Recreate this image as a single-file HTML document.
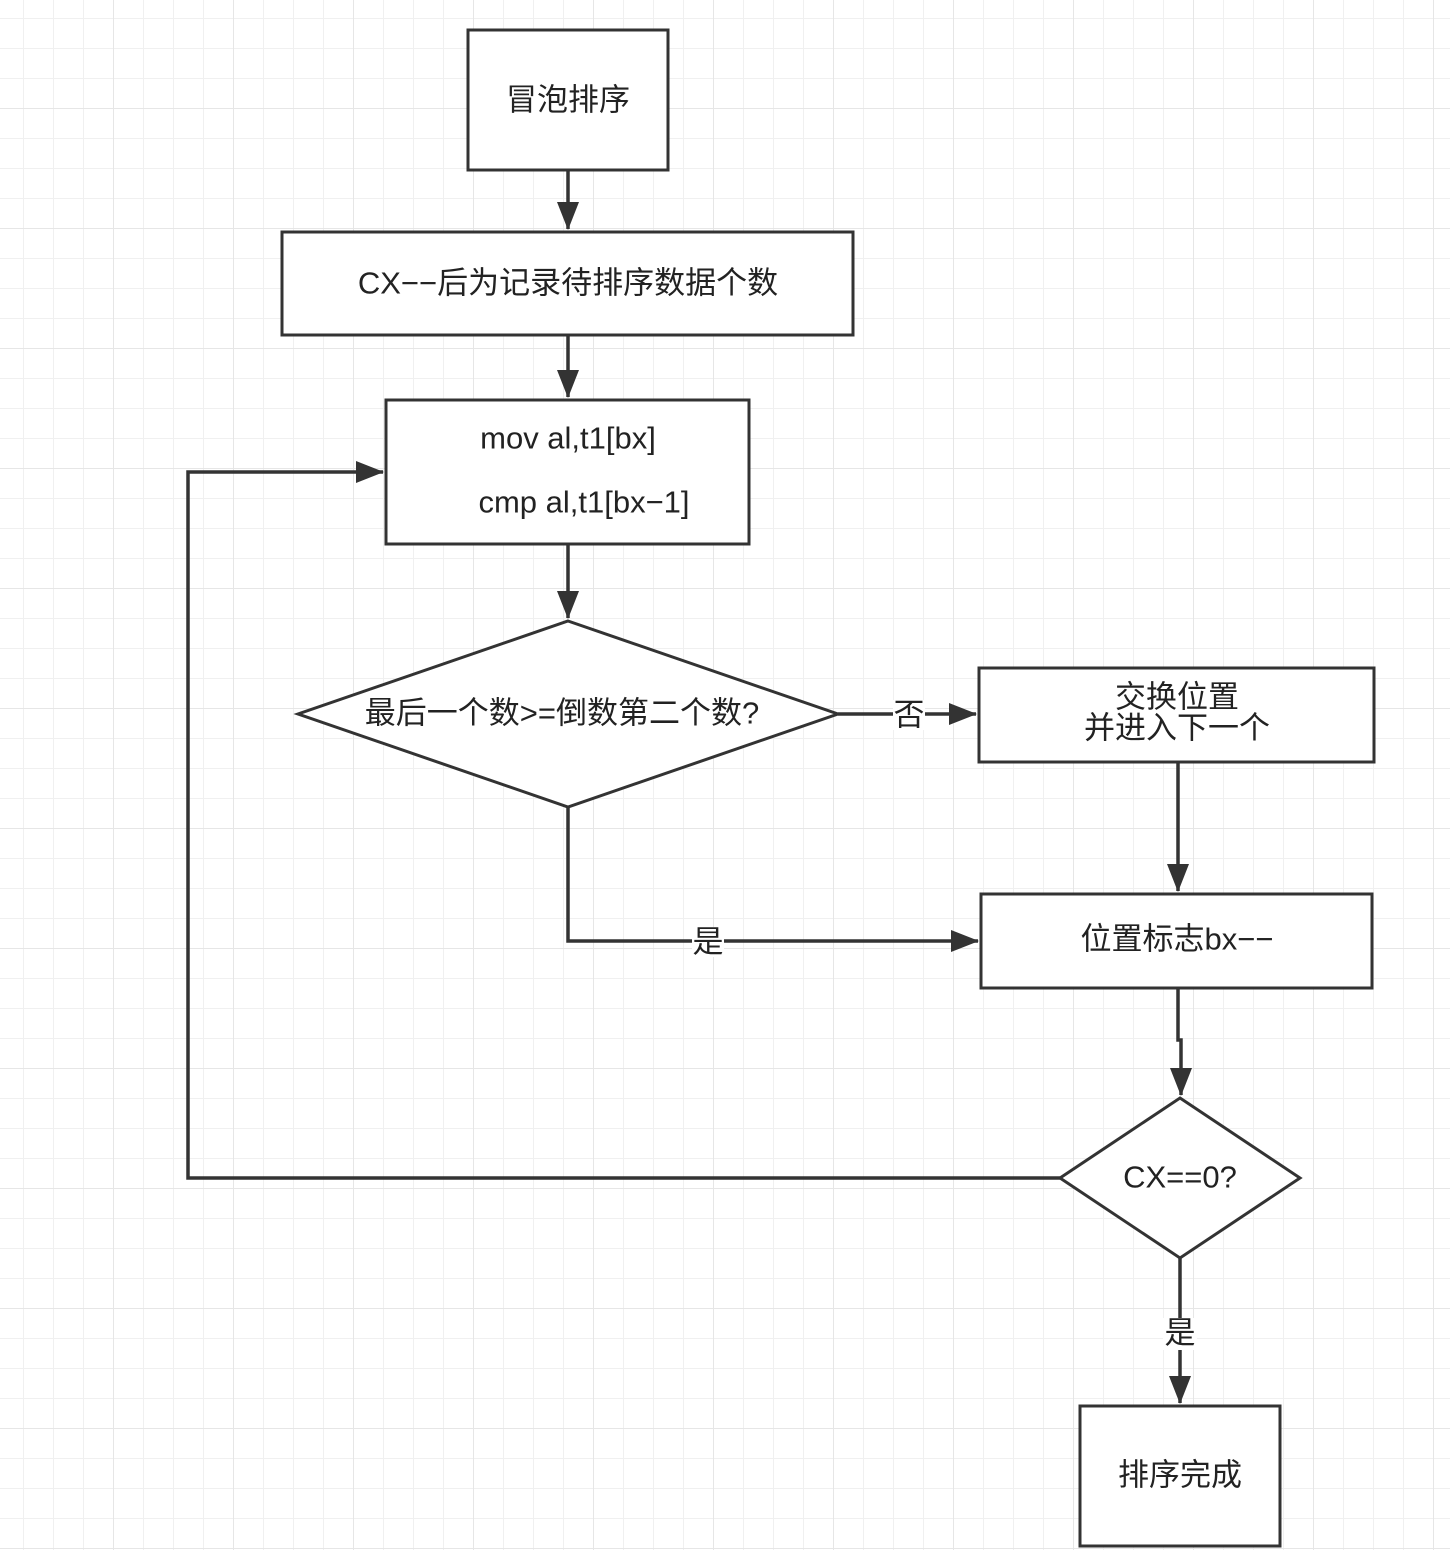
<!DOCTYPE html>
<html><head><meta charset="utf-8"><style>
html,body{margin:0;padding:0;background:#fff}
svg{display:block}
text{font-family:"Liberation Sans","Noto Sans CJK SC",sans-serif;font-size:31px;fill:#222;text-anchor:middle;dominant-baseline:central}
</style></head><body>
<svg width="1450" height="1550" viewBox="0 0 1450 1550" xmlns="http://www.w3.org/2000/svg">
<defs>
<pattern id="g" x="23" y="18" width="30" height="30" patternUnits="userSpaceOnUse">
<path d="M0 0H30M0 0V30" stroke="#f0f0f0" stroke-width="2" fill="none"/>
</pattern>
<pattern id="G" x="113" y="108" width="120" height="120" patternUnits="userSpaceOnUse">
<path d="M0 0H120M0 0V120" stroke="#e6e6e6" stroke-width="2" fill="none"/>
</pattern>
<marker id="a" markerWidth="28" markerHeight="22" refX="27" refY="11" orient="auto" markerUnits="userSpaceOnUse" viewBox="0 0 28 22">
<path d="M0 0L28 11L0 22Z" fill="#333"/>
</marker>
</defs>
<rect width="1450" height="1550" fill="url(#g)"/>
<rect width="1450" height="1550" fill="url(#G)"/>
<g stroke="#333" stroke-width="3" fill="#fff">
<rect x="468" y="30" width="200" height="140"/>
<rect x="282" y="232" width="571" height="103"/>
<rect x="386" y="400" width="363" height="144"/>
<polygon points="568,621 838,714 568,807 298,714"/>
<rect x="979" y="668" width="395" height="94"/>
<rect x="981" y="894" width="391" height="94"/>
<polygon points="1180,1098 1300,1178 1180,1258 1060,1178"/>
<rect x="1080" y="1406" width="200" height="140"/>
</g>
<g stroke="#333" stroke-width="3.5" fill="none">
<path d="M568 170V229" marker-end="url(#a)" />
<path d="M568 335V397" marker-end="url(#a)"/>
<path d="M568 544V618" marker-end="url(#a)"/>
<path d="M838 714H976" marker-end="url(#a)"/>
<path d="M1178 762V891" marker-end="url(#a)"/>
<path d="M568 807V941H978" marker-end="url(#a)"/>
<path d="M1178 988V1040H1181V1095" marker-end="url(#a)"/>
<path d="M1180 1258V1403" marker-end="url(#a)"/>
<path d="M1060 1178H188V472H383" marker-end="url(#a)"/>
</g>
<rect x="893" y="700" width="32" height="30" fill="#fff"/>
<rect x="692" y="927" width="32" height="30" fill="#fff"/>
<rect x="1163" y="1318" width="34" height="32" fill="#fff"/>
<text x="568" y="100">冒泡排序</text>
<text x="568" y="283">CX−−后为记录待排序数据个数</text>
<text x="568" y="438">mov al,t1[bx]</text>
<text x="584" y="502">cmp al,t1[bx−1]</text>
<text x="562" y="713">最后一个数&gt;=倒数第二个数?</text>
<text x="909" y="715">否</text>
<text x="1177" y="697">交换位置</text>
<text x="1177" y="728">并进入下一个</text>
<text x="708" y="942">是</text>
<text x="1177" y="939">位置标志bx−−</text>
<text x="1180" y="1177">CX==0?</text>
<text x="1180" y="1333">是</text>
<text x="1180" y="1475">排序完成</text>
</svg>
</body></html>
